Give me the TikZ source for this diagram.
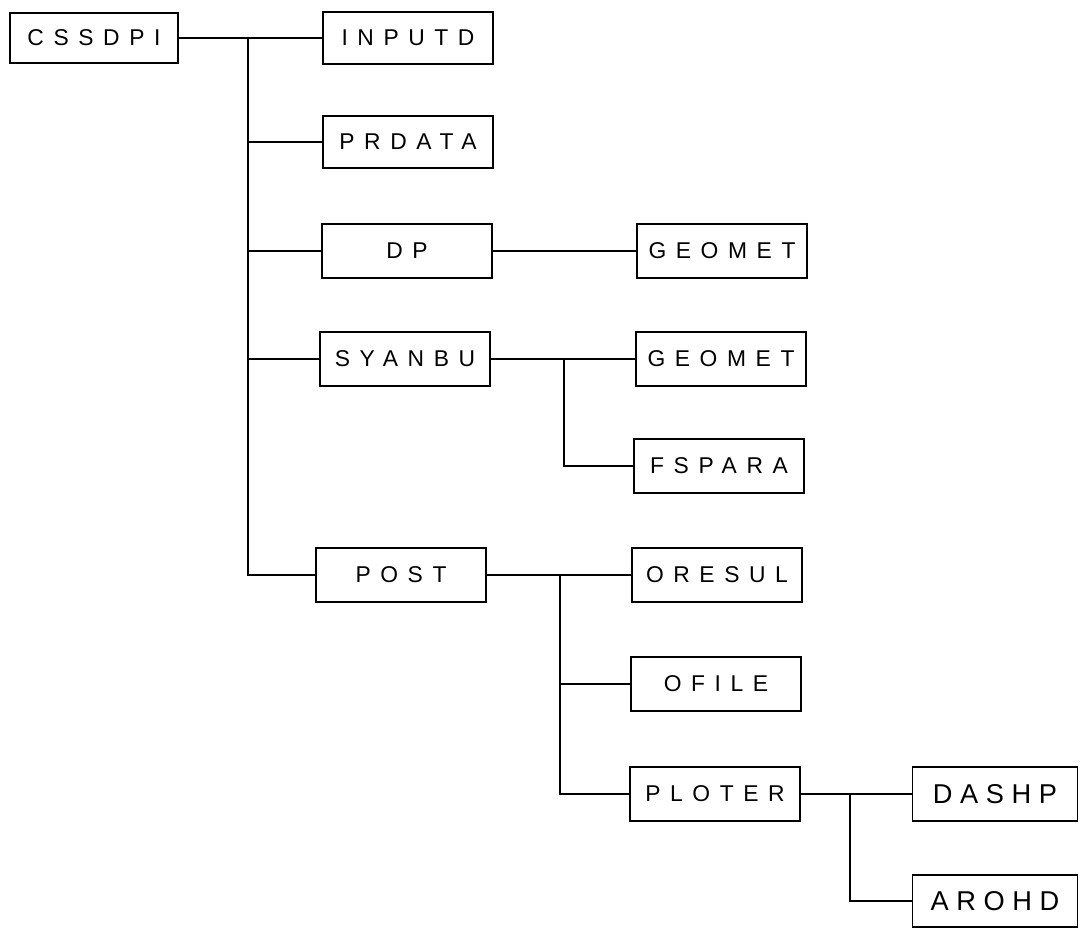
\documentclass[tikz,border=0pt]{standalone}
\usepackage{fontspec}
\setmainfont{Liberation Sans}
\newfontfamily\boxfont[LetterSpace=42]{Liberation Sans}
\newfontfamily\bigboxfont[LetterSpace=28]{Liberation Sans}
\begin{document}
\begin{tikzpicture}[x=0.02cm,y=-0.02cm,
  box/.style={draw,line width=1pt,rectangle,minimum width=3.4cm,minimum height=1.07cm,inner sep=0pt,
    font=\boxfont\fontsize{13}{15}\selectfont},
  bigbox/.style={box,minimum width=3.3cm,font=\bigboxfont\fontsize{15.5}{18}\selectfont},
  conn/.style={line width=1pt}]
\useasboundingbox (0,0) rectangle (1081,929);
\node[box,minimum width=3.36cm,minimum height=1.0cm] (cssdpi) at (94,38) {CSSDPI};
\node[box,minimum height=1.04cm] (inputd) at (408,38) {INPUTD};
\node[box,minimum height=1.04cm] (prdata) at (408,142) {PRDATA};
\node[box] (dp) at (407,251) {DP};
\node[box] (syanbu) at (405,359) {SYANBU};
\node[box] (post) at (401,575) {POST};
\node[box] (geomet1) at (722,251) {GEOMET};
\node[box] (geomet2) at (721,359) {GEOMET};
\node[box] (fspara) at (719,466) {FSPARA};
\node[box] (oresul) at (717,575) {ORESUL};
\node[box] (ofile) at (716,684) {OFILE};
\node[box] (ploter) at (715,794) {PLOTER};
\node[bigbox] (dashp) at (995,794) {DASHP};
\node[bigbox,minimum height=1.04cm] (arohd) at (995,901) {AROHD};
\coordinate (t1) at (248,38);
\coordinate (t2) at (564,359);
\coordinate (t3) at (560,575);
\coordinate (t4) at (850,794);
\draw[conn] (cssdpi.east) -- (inputd.west);
\draw[conn] (t1) |- (post.west);
\draw[conn] (t1 |- prdata.west) -- (prdata.west);
\draw[conn] (t1 |- dp.west) -- (dp.west);
\draw[conn] (t1 |- syanbu.west) -- (syanbu.west);
\draw[conn] (dp.east) -- (geomet1.west);
\draw[conn] (syanbu.east) -- (geomet2.west);
\draw[conn] (t2) |- (fspara.west);
\draw[conn] (post.east) -- (oresul.west);
\draw[conn] (t3) |- (ploter.west);
\draw[conn] (t3 |- ofile.west) -- (ofile.west);
\draw[conn] (ploter.east) -- (dashp.west);
\draw[conn] (t4) |- (arohd.west);
\end{tikzpicture}
\end{document}
